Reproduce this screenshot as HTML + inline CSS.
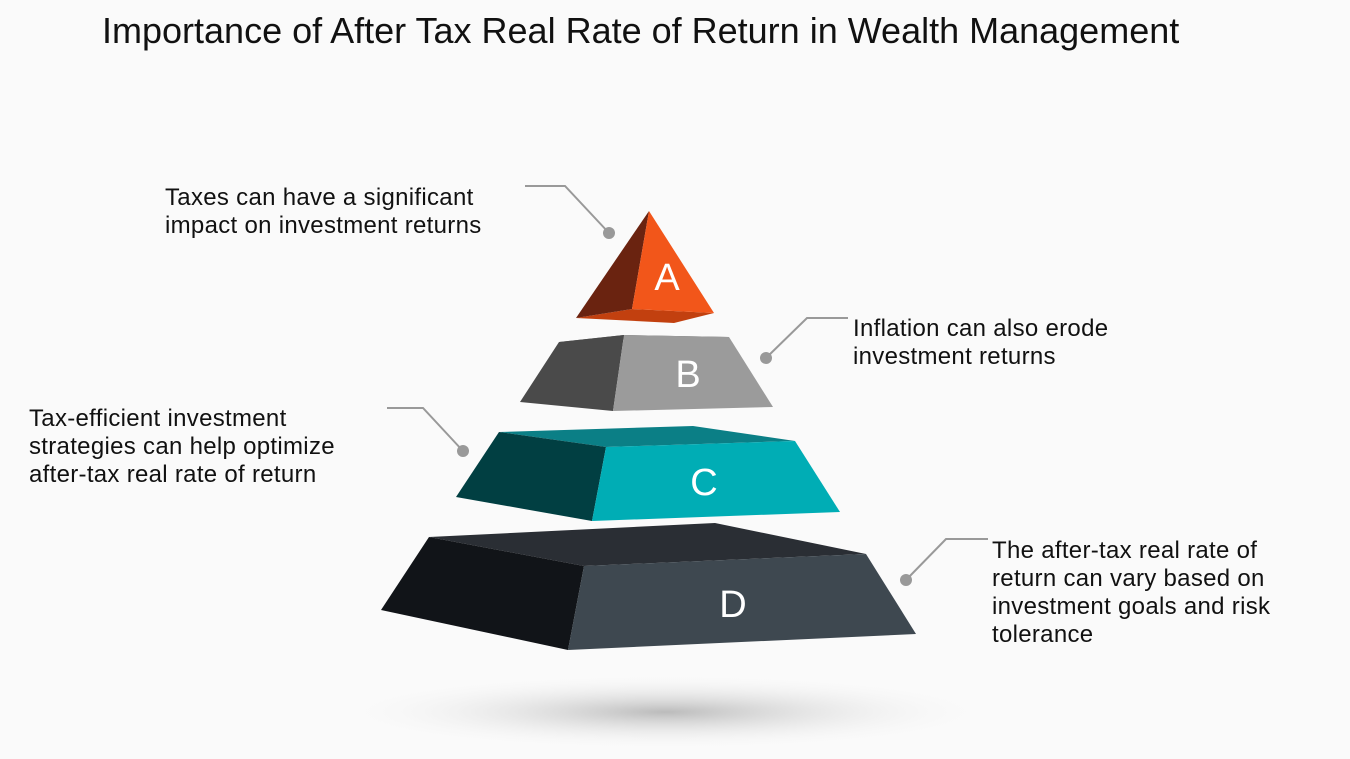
<!DOCTYPE html>
<html><head><style>
body{margin:0;width:1350px;height:759px;background:#fafafa;overflow:hidden;position:relative;font-family:"Liberation Sans",sans-serif}
.t{position:absolute;font-size:24px;letter-spacing:0.3px;line-height:28px;color:#111}
</style></head><body>
<div style="position:absolute;left:102px;top:10px;font-size:36px;color:#111">Importance of After Tax Real Rate of Return in Wealth Management</div>
<svg width="1350" height="759" style="position:absolute;left:0;top:0">
<defs><radialGradient id="sh"><stop offset="0" stop-color="#bbb"/><stop offset="1" stop-color="#fafafa" stop-opacity="0"/></radialGradient></defs>
<ellipse cx="665" cy="712" rx="330" ry="38" fill="url(#sh)"/>
<polygon points="576,318 632,309 714,313 674,323" fill="#c2400f"/>
<polygon points="649,211 576,318 632,309" fill="#6a2310"/>
<polygon points="649,211 632,309 714,313" fill="#f2561a"/>
<polygon points="559,342 624,335 729,337 613,340" fill="#555"/>
<polygon points="559,342 624,335 613,411 520,402" fill="#4a4a4a"/>
<polygon points="624,335 729,337 773,407 613,411" fill="#9b9b9b"/>
<polygon points="499,432 693,426 795,441 606,447" fill="#0b7f86"/>
<polygon points="499,432 606,447 592,521 456,497" fill="#013f42"/>
<polygon points="606,447 795,441 840,512 592,521" fill="#00adb5"/>
<polygon points="429,537 715,523 866,554 584,566" fill="#2a2e34"/>
<polygon points="429,537 584,566 568,650 381,610" fill="#111418"/>
<polygon points="584,566 866,554 916,634 568,650" fill="#3e4850"/>
<g fill="#fff" font-family="Liberation Sans,sans-serif" font-size="38" text-anchor="middle">
<text x="667" y="290">A</text><text x="688" y="387">B</text><text x="704" y="495">C</text><text x="733" y="617">D</text>
</g>
<g stroke="#999" stroke-width="2" fill="none">
<polyline points="525,186 565,186 609,233"/>
<polyline points="766,358 807,318 848,318"/>
<polyline points="387,408 423,408 463,451"/>
<polyline points="906,580 946,539 988,539"/>
</g>
<g fill="#999"><circle cx="609" cy="233" r="6"/><circle cx="766" cy="358" r="6"/><circle cx="463" cy="451" r="6"/><circle cx="906" cy="580" r="6"/></g>
</svg>
<div class="t" style="left:165px;top:184px">Taxes can have a significant<br>impact on investment returns</div>
<div class="t" style="left:853px;top:315px">Inflation can also erode<br>investment returns</div>
<div class="t" style="left:29px;top:405px">Tax-efficient investment<br>strategies can help optimize<br>after-tax real rate of return</div>
<div class="t" style="left:992px;top:537px">The after-tax real rate of<br>return can vary based on<br>investment goals and risk<br>tolerance</div>
</body></html>
